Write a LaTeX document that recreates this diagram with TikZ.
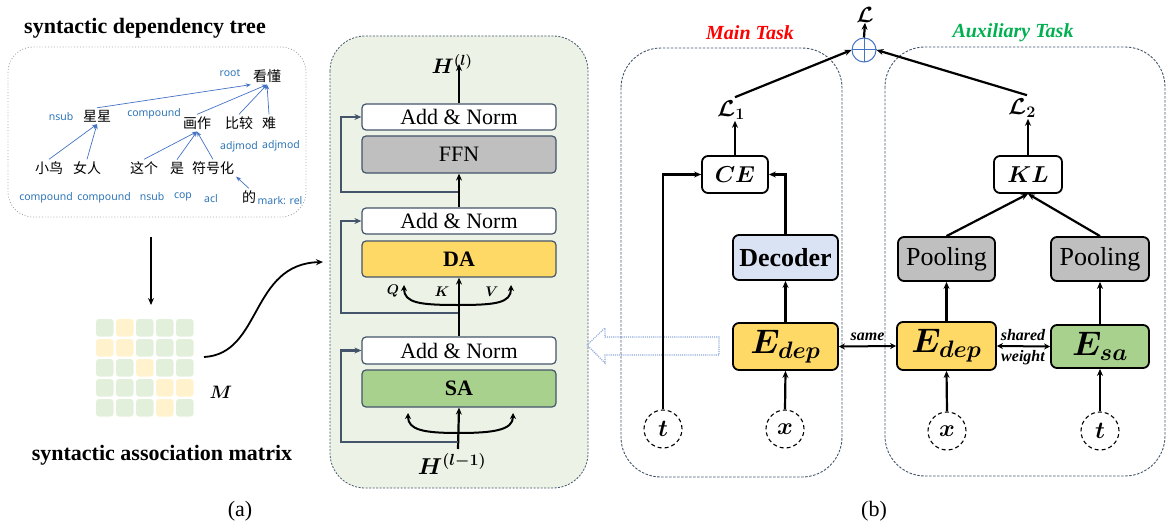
\RequirePackage{fix-cm}
\documentclass[tikz,border=0pt]{standalone}
\usepackage{amsmath}
\usepackage{bm}
\usepackage{fontspec}
\setmainfont{Liberation Serif}
\newfontfamily\cjk{Noto Sans CJK SC}
\newfontfamily\lblfont{Noto Sans}
\usetikzlibrary{arrows.meta,calc}
\definecolor{slate}{HTML}{44546A}
\definecolor{ffngray}{HTML}{BFBFBF}
\definecolor{dayellow}{HTML}{FFD966}
\definecolor{sagreen}{HTML}{A9D18E}
\definecolor{panelgreen}{RGB}{236,243,230}
\definecolor{decblue}{HTML}{DAE3F3}
\definecolor{treeblue}{HTML}{4472C4}
\definecolor{lblblue}{HTML}{2E75B6}
\definecolor{cellgreen}{HTML}{E2EFDA}
\definecolor{cellyellow}{HTML}{FFF2CC}
\definecolor{taskred}{HTML}{FF0000}
\definecolor{taskgreen}{HTML}{00B050}
\definecolor{hollowblue}{HTML}{8FAADC}
\tikzset{
  fs/.style={font=\fontsize{#1}{#1}\selectfont},
  blk/.style={draw=black, line width=2.2pt, -{Stealth[length=7pt,width=6pt]}},
  dblk/.style={draw=black, line width=2pt, {Stealth[length=6pt,width=6pt]}-{Stealth[length=6pt,width=6pt]}},
  res/.style={draw=slate, line width=2.2pt, -{Stealth[length=7pt,width=6pt]}},
  tarr/.style={draw=treeblue, line width=0.7pt, -{Stealth[length=5pt,width=4pt]}},
  layer/.style={draw=slate, line width=1.2pt, rounded corners=4pt, minimum width=194pt, inner sep=0pt, font=\fontsize{22}{24}\selectfont},
  rbox/.style={draw=black, line width=1.8pt, rounded corners=6pt, inner sep=0pt},
  incirc/.style={circle, draw=black, dash pattern=on 4pt off 3pt, line width=1.1pt, minimum size=38pt, inner sep=0pt, font=\fontsize{24}{24}\selectfont},
  word/.style={font=\cjk\fontsize{14}{14}\selectfont, inner sep=2pt},
  dep/.style={font=\lblfont\fontsize{10.5}{10.5}\selectfont, text=lblblue, inner sep=0pt},
  ttl/.style={font=\bfseries\fontsize{22}{24}\selectfont},
  task/.style={font=\bfseries\itshape\fontsize{20}{22}\selectfont},
}
\begin{document}
\begin{tikzpicture}[x=1pt,y=-1pt]
\useasboundingbox (0,0) rectangle (1172,532);

% ---------------- (a) left part ----------------
\node[ttl] (ttree) at (145,28) {syntactic dependency tree};
\node[draw=gray!70, dotted, line width=0.9pt, rounded corners=25pt, minimum width=298pt, minimum height=170pt, inner sep=0pt] (treebox) at (157,132) {};

\node[word] (kd) at (267,76) {看懂};
\node[word] (xx) at (97,116) {星星};
\node[word] (hz) at (197,123) {画作};
\node[word] (bj) at (239,123) {比较};
\node[word] (nan) at (269,123) {难};
\node[word] (xn) at (49,168) {小鸟};
\node[word] (nr) at (87,168) {女人};
\node[word] (zg) at (144,168) {这个};
\node[word] (shi) at (177,168) {是};
\node[word] (fh) at (213,168) {符号化};
\node[word] (de) at (249,197) {的};

\draw[tarr] (xx.north) -- (kd.south west);
\draw[tarr] (hz.north) -- (kd.south);
\draw[tarr] (bj.north) -- (kd.south);
\draw[tarr] (nan.north) -- (kd.south);
\draw[tarr] (xn.north) -- (xx.south);
\draw[tarr] (nr.north) -- (xx.south);
\draw[tarr] (zg.north) -- (hz.south);
\draw[tarr] (shi.north) -- (hz.south);
\draw[tarr] (fh.north) -- (hz.south);
\draw[tarr] (de.north) -- (fh.south east);

\node[dep] at (230,73) {root};
\node[dep] at (61,117) {nsub};
\node[dep] at (154,114) {compound};
\node[dep] at (239,147) {adjmod};
\node[dep] at (281,146) {adjmod};
\node[dep] at (46,198) {compound};
\node[dep] at (104,198) {compound};
\node[dep] at (152,197) {nsub};
\node[dep] at (183,197) {cop};
\node[dep] at (211,199) {acl};
\node[dep] at (280,201) {mark: rel};

% matrix
\foreach \r/\c/\col in {
 1/1/cellgreen,1/2/cellyellow,1/3/cellgreen,1/4/cellgreen,1/5/cellgreen,
 2/1/cellyellow,2/2/cellyellow,2/3/cellgreen,2/4/cellgreen,2/5/cellgreen,
 3/1/cellgreen,3/2/cellgreen,3/3/cellyellow,3/4/cellgreen,3/5/cellgreen,
 4/1/cellgreen,4/2/cellgreen,4/3/cellgreen,4/4/cellyellow,4/5/cellyellow,
 5/1/cellgreen,5/2/cellgreen,5/3/cellgreen,5/4/cellyellow,5/5/cellgreen}{
  \fill[\col, rounded corners=3pt] ({96+20*(\c-1)},{319+20*(\r-1)}) rectangle ++(17.5,17.5);
}
\node[minimum width=97pt, minimum height=98pt, inner sep=0pt] (matM) at (144.5,368) {};
\node[fs=18] (Mlbl) at (221,392) {$\bm{M}$};
\node[ttl] (tmat) at (162,455) {syntactic association matrix};
\node[fs=22] (capa) at (240,511) {(a)};

\coordinate (treeout) at (151,237);
\draw[blk, line width=1.8pt] (treeout) -- (151,305);
\coordinate (mout) at (204,357);
\coordinate (pin) at (323,262);
\draw[blk, line width=1.8pt] (mout) .. controls (262,354) and (250,264) .. (pin);

% ---------------- middle panel ----------------
\draw[slate, dash pattern=on 2pt off 1.5pt, line width=0.8pt, fill=panelgreen, rounded corners=35pt] (330,36) rectangle (588,488);

\node[layer, fill=white, minimum height=26pt] (an1) at (459,117) {Add \& Norm};
\node[layer, fill=ffngray, minimum height=37pt] (ffn) at (459,154.5) {FFN};
\node[layer, fill=white, minimum height=26pt] (an2) at (459,221) {Add \& Norm};
\node[layer, fill=dayellow, minimum height=36pt, font=\bfseries\fontsize{22}{24}\selectfont] (da) at (459,259) {DA};
\node[layer, fill=white, minimum height=27pt] (an3) at (459,350.5) {Add \& Norm};
\node[layer, fill=sagreen, minimum height=37pt, font=\bfseries\fontsize{22}{24}\selectfont] (sa) at (459,388.5) {SA};

\node[fs=21, inner sep=0pt] (Hl) at (452,64) {$\bm{H^{(\bm{l})}}$};
\node[fs=23, inner sep=0pt] (Hlm) at (452,464) {$\bm{H^{(\bm{l-1})}}$};

\draw[blk] (an1.north) -- (an1.north |- Hl.center);
\draw[blk] (an2.north) -- (ffn.south);
\draw[blk] (an3.north) -- (da.south);
\draw[blk] (458,449) -- (sa.south);

\coordinate (r1) at (458,192);
\coordinate (r2) at (458,313);
\coordinate (r3) at (458,442);
\draw[res] (r1) -- (341,192) |- (an1.west);
\draw[res] (r2) -- (341,313) |- (an2.west);
\draw[res] (r3) -- (341,442) |- (an3.west);

\draw[dblk] (404,285) .. controls (404,303) and (420,305) .. (458,305) .. controls (496,305) and (511,303) .. (511,285);
\draw[dblk] (408,413) .. controls (408,430) and (424,433) .. (458,433) .. controls (494,433) and (513,430) .. (513,413);

\node[fs=14, inner sep=0pt] (Q) at (393,291) {$\bm{Q}$};
\node[fs=14, inner sep=0pt] (K) at (442,292) {$\bm{K}$};
\node[fs=14, inner sep=0pt] (V) at (492,292) {$\bm{V}$};

% hollow arrow
\draw[hollowblue, densely dotted, line width=1.1pt] (587,345) -- (605,328) -- (605,337) -- (719,337) -- (719,355) -- (605,355) -- (605,363) -- cycle;

% ---------------- (b) right part ----------------
\draw[slate, dash pattern=on 2.5pt off 1.5pt, line width=0.9pt, rounded corners=40pt] (621,48) rectangle (842,477);
\draw[slate, dash pattern=on 2.5pt off 1.5pt, line width=0.9pt, rounded corners=40pt] (885,47) rectangle (1165,476);
\node[task, text=taskred] (mt) at (750,33) {Main Task};
\node[task, text=taskgreen] (at) at (1013,33) {Auxiliary Task};

\node[circle, draw=treeblue, line width=1pt, minimum size=24pt, inner sep=0pt] (op) at (864,50) {};
\draw[treeblue, line width=1pt] (op.north) -- (op.south) (op.west) -- (op.east);
\node[fs=22, inner sep=0pt] (L) at (865,15) {$\bm{\mathcal{L}}$};
\node[fs=23, inner sep=1pt] (L1) at (731,110) {$\bm{\mathcal{L}_1}$};
\node[fs=23, inner sep=1pt] (L2) at (1022,108) {$\bm{\mathcal{L}_2}$};

\node[rbox, fill=white, minimum width=66pt, minimum height=37pt, fs=23] (ce) at (735,174.5) {$\bm{CE}$};
\node[rbox, fill=decblue, minimum width=105pt, minimum height=45pt, font=\bfseries\fontsize{26}{28}\selectfont] (dec) at (785.5,257.5) {Decoder};
\node[rbox, fill=dayellow, minimum width=105pt, minimum height=47pt, fs=34] (edm) at (785.5,346.5) {$\bm{E_{dep}}$};
\node[incirc] (xm) at (785,429) {$\bm{x}$};
\node[incirc] (tm) at (663,429) {$\bm{t}$};

\node[rbox, fill=dayellow, minimum width=99pt, minimum height=48pt, fs=34] (eda) at (946.5,346) {$\bm{E_{dep}}$};
\node[rbox, fill=sagreen, minimum width=98pt, minimum height=43pt, fs=34] (esa) at (1100,346.5) {$\bm{E_{sa}}$};
\node[rbox, fill=ffngray, minimum width=97pt, minimum height=44pt, font=\fontsize{26}{28}\selectfont] (pl1) at (946.5,259) {Pooling};
\node[rbox, fill=ffngray, minimum width=98pt, minimum height=44pt, font=\fontsize{26}{28}\selectfont] (pl2) at (1100,259) {Pooling};
\node[rbox, fill=white, minimum width=68pt, minimum height=37pt, fs=23] (kl) at (1028,174.5) {$\bm{KL}$};
\node[incirc] (xa) at (947,431) {$\bm{x}$};
\node[incirc] (ta) at (1100,431) {$\bm{t}$};

\draw[blk] (op.north) -- (L.south);
\draw[blk] ($(L1.north)+(4,-2)$) -- (op.west);
\draw[blk] ($(L2.north)+(5,-2)$) -- (op.east);
\draw[blk] (ce.north) -- (ce.north |- L1.south);
\draw[blk] (tm.north) |- (ce.west);
\draw[blk] (dec.north) |- (ce.east);
\draw[blk] (edm.north) -- (dec.south);
\draw[blk] (xm.north) -- (edm.south);
\draw[dblk] (edm.east) -- (eda.west) node[midway, above=1pt, font=\bfseries\itshape\fontsize{16}{16}\selectfont] {same};
\draw[dblk] (eda.east) -- (esa.west);
\node[font=\bfseries\itshape\fontsize{16}{16}\selectfont, inner sep=0pt] (shd) at (1023,335) {shared};
\node[font=\bfseries\itshape\fontsize{16}{16}\selectfont, inner sep=0pt] (wgt) at (1023,358) {weight};
\draw[blk] (xa.north) -- (eda.south);
\draw[blk] (ta.north) -- (esa.south);
\draw[blk] (eda.north) -- (pl1.south);
\draw[blk] (esa.north) -- (pl2.south);
\draw[blk] (pl1.north) -- (kl.south);
\draw[blk] (pl2.north) -- (kl.south);
\draw[blk] (kl.north) -- (kl.north |- L2.south);

\node[fs=22] (capb) at (874,511) {(b)};
\end{tikzpicture}
\end{document}
